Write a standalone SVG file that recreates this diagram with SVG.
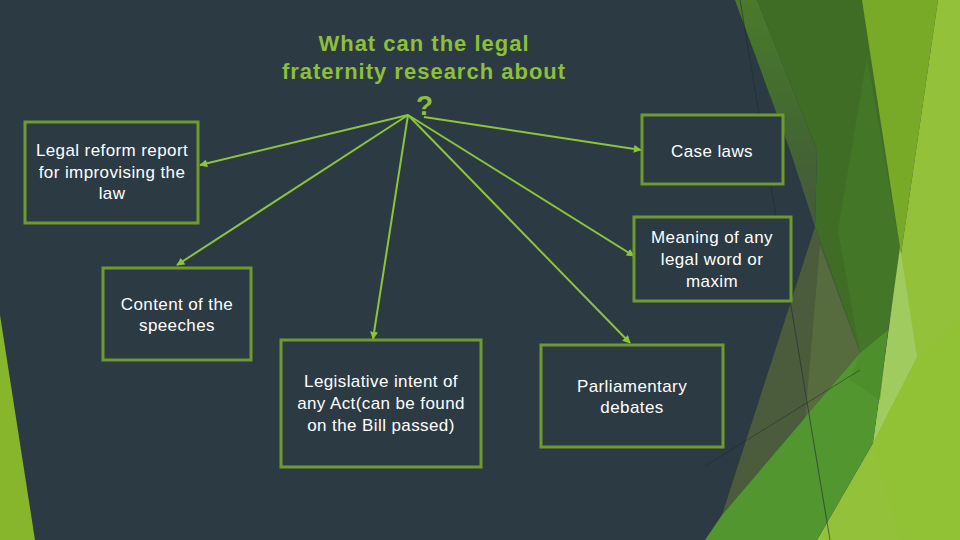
<svg xmlns="http://www.w3.org/2000/svg" width="960" height="540" viewBox="0 0 960 540">
<defs>
<style>
.box{fill:#2c3a43;stroke:#6f9a2f;stroke-width:3}
.lbl{font-family:"Liberation Sans",Arial,sans-serif;font-size:17px;letter-spacing:0.4px;fill:#ffffff;text-anchor:middle}
.ttl{font-family:"Liberation Sans",Arial,sans-serif;font-size:22px;font-weight:bold;letter-spacing:1px;fill:#8cbf3a;text-anchor:middle}
.con{stroke:#8cc43c;stroke-width:2;fill:none;marker-end:url(#ah)}
</style>
<marker id="ah" viewBox="0 0 10 10" refX="9" refY="5" markerWidth="4" markerHeight="4" orient="auto" markerUnits="strokeWidth">
<path d="M0,0 L10,5 L0,10 z" fill="#8cc43c"/>
</marker>
<linearGradient id="strip" x1="0" y1="0" x2="0" y2="1">
<stop offset="0" stop-color="#4a7a2c"/>
<stop offset="0.5" stop-color="#436a30"/>
<stop offset="1" stop-color="#46583b"/>
</linearGradient>
</defs>
<g id="background">
<rect x="0" y="0" width="960" height="540" fill="#2c3a43"/>
<polygon points="0,315 0,540 35,540" fill="#87b52c"/>
<polygon points="757,0 866,0 901,254 860,353 815,227 817,150" fill="#3f6d26"/>
<polygon points="867,57 901,254 888,330 860,353 838,230" fill="#447628"/>
<polygon points="735,0 757,0 817,150 815,227 790,150" fill="url(#strip)"/>
<polygon points="815,227 860,353 722,515" fill="#4b5c3d"/>
<polygon points="820,245 860,353 805,420" fill="#566b3e"/>
<polygon points="862,0 938,0 901,254" fill="#79aa27"/>
<polygon points="938,0 960,0 960,540 817,540 873,443 901,254" fill="#93c23a"/>
<polygon points="900,247 917,357 873,443" fill="#a0cb5e"/>
<polygon points="705,540 722,515 860,353 888,330 873,443 817,540" fill="#529630"/>
<polygon points="860,353 888,330 880,400 850,380" fill="#4b8b2a" opacity="0.7"/>
<polygon points="873,443 917,357 960,320 960,540 900,540" fill="#8fbf30" opacity="0.6"/>
<line x1="740" y1="0" x2="830" y2="540" stroke="#1f2a30" stroke-width="1" opacity="0.6"/>
<line x1="705" y1="466" x2="860" y2="370" stroke="#1f2a30" stroke-width="1" opacity="0.5"/>
</g>
<g id="title">
<text class="ttl" x="424" y="51">What can the legal</text>
<text class="ttl" x="424" y="79">fraternity research about</text>
<text class="ttl" x="425" y="115" style="font-size:28px">?</text>
</g>
<g id="connectors">
<line class="con" x1="408" y1="115" x2="200" y2="165"/>
<line class="con" x1="408" y1="115" x2="177" y2="265"/>
<line class="con" x1="408" y1="115" x2="373" y2="339"/>
<line class="con" x1="408" y1="115" x2="634" y2="256"/>
<line class="con" x1="408" y1="115" x2="630" y2="343"/>
<line class="con" x1="424" y1="117" x2="641" y2="150"/>
</g>
<g id="node-legal-reform">
<rect class="box" x="25" y="122" width="173" height="101"/>
<text class="lbl" x="112" y="156">Legal reform report</text>
<text class="lbl" x="112" y="178">for improvising the</text>
<text class="lbl" x="112" y="199">law</text>
</g>
<g id="node-case-laws">
<rect class="box" x="642" y="115" width="141" height="69"/>
<text class="lbl" x="712" y="157">Case laws</text>
</g>
<g id="node-meaning">
<rect class="box" x="634" y="217" width="157" height="84"/>
<text class="lbl" x="712" y="243">Meaning of any</text>
<text class="lbl" x="712" y="265">legal word or</text>
<text class="lbl" x="712" y="287">maxim</text>
</g>
<g id="node-content">
<rect class="box" x="103" y="268" width="148" height="92"/>
<text class="lbl" x="177" y="310">Content of the</text>
<text class="lbl" x="177" y="331">speeches</text>
</g>
<g id="node-legislative">
<rect class="box" x="281" y="340" width="200" height="127"/>
<text class="lbl" x="381" y="387">Legislative intent of</text>
<text class="lbl" x="381" y="409">any Act(can be found</text>
<text class="lbl" x="381" y="431">on the Bill passed)</text>
</g>
<g id="node-parliamentary">
<rect class="box" x="541" y="345" width="182" height="102"/>
<text class="lbl" x="632" y="392">Parliamentary</text>
<text class="lbl" x="632" y="413">debates</text>
</g>
</svg>
